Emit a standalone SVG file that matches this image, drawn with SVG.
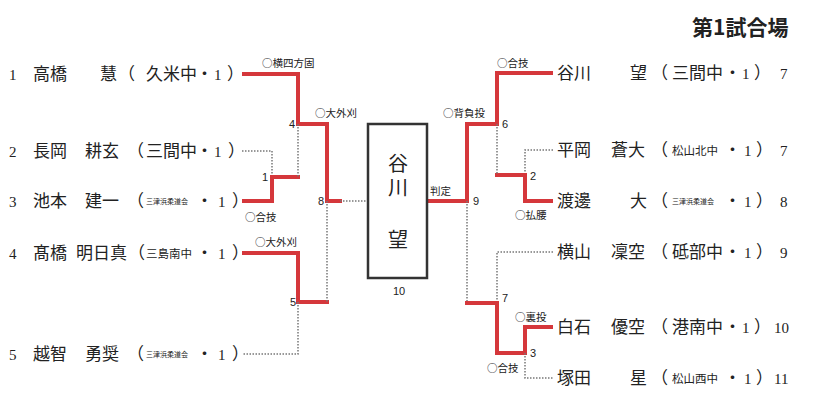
<svg xmlns="http://www.w3.org/2000/svg" width="816" height="412" viewBox="0 0 816 412">
<style>
.n{font-family:"Noto Sans CJK JP","Noto Sans",sans-serif;font-size:17px;fill:#222}
.m{font-family:"Noto Sans CJK JP","Noto Sans",sans-serif;font-size:11.5px;fill:#222}
.t{font-family:"Noto Sans CJK JP","Noto Sans",sans-serif;font-size:7px;fill:#222}
.d{font-family:"Liberation Serif",serif;font-size:15px;fill:#222}
.l{font-family:"Noto Sans CJK JP","Noto Sans",sans-serif;font-size:10.5px;fill:#222}
.k{font-family:"Liberation Sans",sans-serif;font-size:11px;fill:#222}
.b{font-family:"Noto Sans CJK JP","Noto Sans",sans-serif;font-size:20px;fill:#222}
.r{fill:none;stroke:#d5373b;stroke-width:4;stroke-linecap:square}
.o{fill:none;stroke:#777;stroke-width:1.5;stroke-dasharray:1.5 1.5}
</style>
<rect width="816" height="412" fill="#fff"/>
<text x="692" y="35" style="font-family:'Noto Sans CJK JP',sans-serif;font-size:21px;font-weight:bold;fill:#222">第1試合場</text>

<g id="connectors">
<polyline class="o" points="242,151 272,151 272,177"/>
<polyline class="r" points="244,201 272,201 272,177 298,177"/>
<polyline class="r" points="244,74 298,74 298,124 327,124"/>
<line class="o" x1="298" y1="124" x2="298" y2="177"/>
<polyline class="r" points="244,253 298,253 298,302 327,302"/>
<polyline class="o" points="298,302 298,354 242,354"/>
<polyline class="r" points="327,124 327,201 340,201"/>
<line class="o" x1="327" y1="201" x2="327" y2="302"/>
<line class="o" x1="340" y1="201" x2="368" y2="201"/>
<polyline class="r" points="429,201 467,201 467,124 497,124 497,73 551,73"/>
<polyline class="o" points="553,150 525,150 525,175"/>
<polyline class="r" points="497,175 525,175 525,201 551,201"/>
<line class="o" x1="497" y1="124" x2="497" y2="175"/>
<line class="o" x1="467" y1="201" x2="467" y2="303"/>
<polyline class="o" points="553,252 497,252 497,303"/>
<polyline class="r" points="467,303 497,303 497,353 525,353 525,327 551,327"/>
<polyline class="o" points="525,353 525,378 553,378"/>
</g>

<g id="labels">
<text class="l" x="262" y="67">○横四方固</text>
<text class="l" x="315" y="117">○大外刈</text>
<text class="l" x="245" y="221">○合技</text>
<text class="l" x="255" y="246">○大外刈</text>
<text class="l" x="443" y="117">○背負投</text>
<text class="l" x="430" y="195">判定</text>
<text class="l" x="497" y="67">○合技</text>
<text class="l" x="515" y="219">○払腰</text>
<text class="l" x="515" y="321">○裏投</text>
<text class="l" x="487" y="372">○合技</text>
<text class="k" x="289" y="128">4</text>
<text class="k" x="262" y="181">1</text>
<text class="k" x="318" y="205">8</text>
<text class="k" x="290" y="306">5</text>
<text class="k" x="502" y="128">6</text>
<text class="k" x="473" y="205">9</text>
<text class="k" x="530" y="180">2</text>
<text class="k" x="502" y="302">7</text>
<text class="k" x="530" y="357">3</text>
<text class="k" x="393" y="295">10</text>
</g>

<g id="final">
<rect x="368" y="124" width="59" height="154" fill="#fff" stroke="#333" stroke-width="2.5"/>
<text class="b" x="398" y="153" writing-mode="vertical-rl" style="letter-spacing:4px">谷川</text>
<text class="b" x="398" y="247" text-anchor="middle">望</text>
</g>

<g id="p1"><text class="d" x="9" y="80">1</text><text class="n" x="33" y="80">高橋</text><text class="n" x="100" y="80">慧</text><text class="n" x="118" y="80">（</text><text class="n" x="146" y="80">久米中</text><text class="n" x="196" y="80">・</text><text class="d" x="214" y="80">1</text><text class="n" x="227" y="80">）</text></g>
<g id="p2"><text class="d" x="9" y="157">2</text><text class="n" x="33" y="157">長岡</text><text class="n" x="85" y="157">耕玄</text><text class="n" x="127" y="157">（</text><text class="n" x="146" y="157">三間中</text><text class="n" x="196" y="157">・</text><text class="d" x="214" y="157">1</text><text class="n" x="228" y="157">）</text></g>
<g id="p3"><text class="d" x="9" y="207">3</text><text class="n" x="33" y="207">池本</text><text class="n" x="85" y="207">建一</text><text class="n" x="127" y="207">（</text><text class="t" x="146" y="204">三津浜柔道会</text><text class="n" x="196" y="207">・</text><text class="d" x="218" y="207">1</text><text class="n" x="232" y="207">）</text></g>
<g id="p4"><text class="d" x="9" y="259">4</text><text class="n" x="33" y="259">髙橋</text><text class="n" x="76" y="259">明日真</text><text class="n" x="128" y="259">（</text><text class="m" x="146" y="258">三島南中</text><text class="n" x="196" y="259">・</text><text class="d" x="218" y="259">1</text><text class="n" x="232" y="259">）</text></g>
<g id="p5"><text class="d" x="9" y="360">5</text><text class="n" x="33" y="360">越智</text><text class="n" x="85" y="360">勇奨</text><text class="n" x="127" y="360">（</text><text class="t" x="146" y="357">三津浜柔道会</text><text class="n" x="196" y="360">・</text><text class="d" x="218" y="360">1</text><text class="n" x="232" y="360">）</text></g>

<g id="p7"><text class="n" x="557" y="79">谷川</text><text class="n" x="630" y="79">望</text><text class="n" x="651" y="79">（</text><text class="n" x="672" y="79">三間中</text><text class="n" x="724" y="79">・</text><text class="d" x="742" y="79">1</text><text class="n" x="754" y="79">）</text><text class="d" x="780" y="79">7</text></g>
<g id="p7b"><text class="n" x="557" y="156">平岡</text><text class="n" x="611" y="156">蒼大</text><text class="n" x="651" y="156">（</text><text class="m" x="672" y="155">松山北中</text><text class="n" x="724" y="156">・</text><text class="d" x="744" y="156">1</text><text class="n" x="756" y="156">）</text><text class="d" x="780" y="156">7</text></g>
<g id="p8"><text class="n" x="557" y="207">渡邊</text><text class="n" x="630" y="207">大</text><text class="n" x="651" y="207">（</text><text class="t" x="672" y="204">三津浜柔道会</text><text class="n" x="724" y="207">・</text><text class="d" x="744" y="207">1</text><text class="n" x="756" y="207">）</text><text class="d" x="780" y="207">8</text></g>
<g id="p9"><text class="n" x="557" y="258">横山</text><text class="n" x="611" y="258">凜空</text><text class="n" x="651" y="258">（</text><text class="n" x="672" y="258">砥部中</text><text class="n" x="724" y="258">・</text><text class="d" x="744" y="258">1</text><text class="n" x="756" y="258">）</text><text class="d" x="780" y="258">9</text></g>
<g id="p10"><text class="n" x="557" y="333">白石</text><text class="n" x="611" y="333">優空</text><text class="n" x="651" y="333">（</text><text class="n" x="672" y="333">港南中</text><text class="n" x="724" y="333">・</text><text class="d" x="742" y="333">1</text><text class="n" x="754" y="333">）</text><text class="d" x="774" y="333">10</text></g>
<g id="p11"><text class="n" x="557" y="384">塚田</text><text class="n" x="630" y="384">星</text><text class="n" x="651" y="384">（</text><text class="m" x="672" y="383">松山西中</text><text class="n" x="724" y="384">・</text><text class="d" x="744" y="384">1</text><text class="n" x="756" y="384">）</text><text class="d" x="774" y="384">11</text></g>
</svg>
